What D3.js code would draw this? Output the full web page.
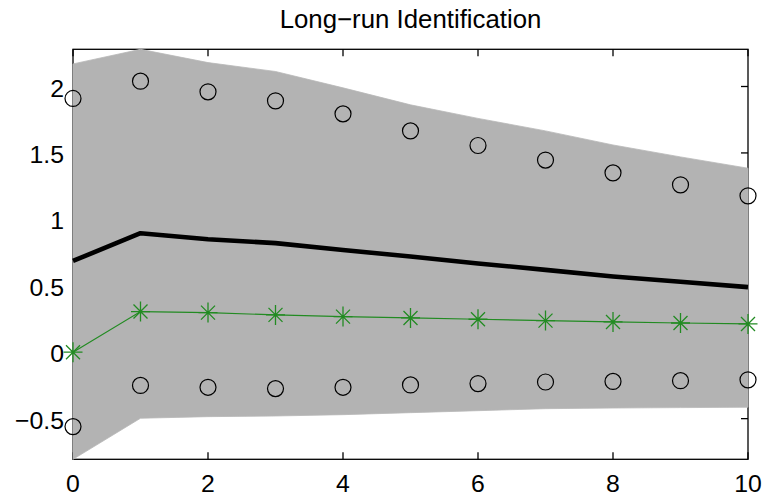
<!DOCTYPE html>
<html>
<head>
<meta charset="utf-8">
<script src="https://cdn.jsdelivr.net/npm/d3@7"></script>
<style>
  html, body { margin: 0; padding: 0; background: #fff; }
  svg { display: block; }
  text { font-family: "Liberation Sans", Arial, Helvetica, sans-serif; fill: #000; }
</style>
</head>
<body>
<svg id="chart" width="767" height="502"></svg>
<script>
// ---- data ----
const title = "Long\u2212run Identification";
const horizon = [0, 1, 2, 3, 4, 5, 6, 7, 8, 9, 10];
const bandUpper = [2.17, 2.28, 2.18, 2.113, 1.99, 1.862, 1.76, 1.666, 1.56, 1.47, 1.385];
const bandLower = [-0.806, -0.497, -0.485, -0.48, -0.47, -0.455, -0.44, -0.425, -0.42, -0.417, -0.414];
const circleUpper = [1.91, 2.04, 1.96, 1.892, 1.794, 1.666, 1.556, 1.446, 1.35, 1.26, 1.177];
const circleLower = [-0.56, -0.25, -0.264, -0.274, -0.264, -0.246, -0.236, -0.224, -0.22, -0.214, -0.208];
const meanResponse = [0.687, 0.896, 0.85, 0.821, 0.77, 0.72, 0.668, 0.62, 0.57, 0.53, 0.49];
const starResponse = [0.0, 0.306, 0.298, 0.281, 0.268, 0.258, 0.248, 0.238, 0.228, 0.22, 0.213];
const xTicks = [0, 2, 4, 6, 8, 10];
const yTicks = [-0.5, 0, 0.5, 1, 1.5, 2];
const yTickLabels = ["\u22120.5", "0", "0.5", "1", "1.5", "2"];
const xDomain = [0, 10];
const yDomain = [-0.806, 2.28];

// ---- layout ----
const L = 73, R = 748, T = 49.3, B = 459.3;
const x = d3.scaleLinear().domain(xDomain).range([L, R]);
const y = d3.scaleLinear().domain(yDomain).range([B, T]);
const svg = d3.select("#chart");
const fs = 24.8;
const tickLen = 7;

// frame + ticks (drawn under the band, as in the reference)
const frame = svg.append("g").attr("stroke", "#000").attr("stroke-width", 1.3).attr("fill", "none");
frame.append("rect").attr("x", L).attr("y", T).attr("width", R - L).attr("height", B - T);
xTicks.forEach(t => {
  frame.append("line").attr("x1", x(t)).attr("x2", x(t)).attr("y1", B).attr("y2", B - tickLen);
  frame.append("line").attr("x1", x(t)).attr("x2", x(t)).attr("y1", T).attr("y2", T + tickLen);
});
yTicks.forEach(t => {
  frame.append("line").attr("x1", L).attr("x2", L + tickLen).attr("y1", y(t)).attr("y2", y(t));
  frame.append("line").attr("x1", R).attr("x2", R - tickLen).attr("y1", y(t)).attr("y2", y(t));
});

// tick labels
svg.append("g").selectAll("text").data(xTicks).join("text")
  .attr("x", d => x(d)).attr("y", 491.5)
  .attr("text-anchor", "middle").attr("font-size", fs)
  .text(d => String(d));
svg.append("g").selectAll("text").data(yTicks).join("text")
  .attr("x", 64).attr("y", d => y(d) + 10)
  .attr("text-anchor", "end").attr("font-size", fs)
  .text((d, i) => yTickLabels[i]);

// title
svg.append("text").attr("x", (L + R) / 2).attr("y", 28.3)
  .attr("text-anchor", "middle").attr("font-size", 25.8)
  .text(title);

// band
const bandData = horizon.map((h, i) => ({ h, lo: bandLower[i], hi: bandUpper[i] }));
svg.append("path").datum(bandData)
  .attr("fill", "#b3b3b3").attr("stroke", "#b8b8b8").attr("stroke-width", 0.8)
  .attr("d", d3.area().x(d => x(d.h)).y0(d => y(d.lo)).y1(d => y(d.hi)));

// thick black mean line
svg.append("path").datum(horizon.map((h, i) => [h, meanResponse[i]]))
  .attr("fill", "none").attr("stroke", "#000").attr("stroke-width", 4.6)
  .attr("stroke-linejoin", "round")
  .attr("d", d3.line().x(d => x(d[0])).y(d => y(d[1])));

// green star line
const green = "#228b22";
svg.append("path").datum(horizon.map((h, i) => [h, starResponse[i]]))
  .attr("fill", "none").attr("stroke", green).attr("stroke-width", 1.2)
  .attr("d", d3.line().x(d => x(d[0])).y(d => y(d[1])));
const sv = 10, sh = 9.5, sd = 7;
const starPath = `M0,${-sv}V${sv}M${-sh},0H${sh}M${-sd},${-sd}L${sd},${sd}M${-sd},${sd}L${sd},${-sd}`;
svg.append("g").selectAll("path").data(horizon).join("path")
  .attr("transform", (d, i) => `translate(${x(d)},${y(starResponse[i])})`)
  .attr("d", starPath).attr("fill", "none").attr("stroke", green).attr("stroke-width", 1.3);

// circles
const circ = svg.append("g").attr("fill", "none").attr("stroke", "#000").attr("stroke-width", 1.2);
circ.selectAll("circle.u").data(horizon).join("circle").attr("class", "u")
  .attr("cx", d => x(d)).attr("cy", (d, i) => y(circleUpper[i])).attr("r", 8);
circ.selectAll("circle.l").data(horizon).join("circle").attr("class", "l")
  .attr("cx", d => x(d)).attr("cy", (d, i) => y(circleLower[i])).attr("r", 8);
</script>
</body>
</html>
